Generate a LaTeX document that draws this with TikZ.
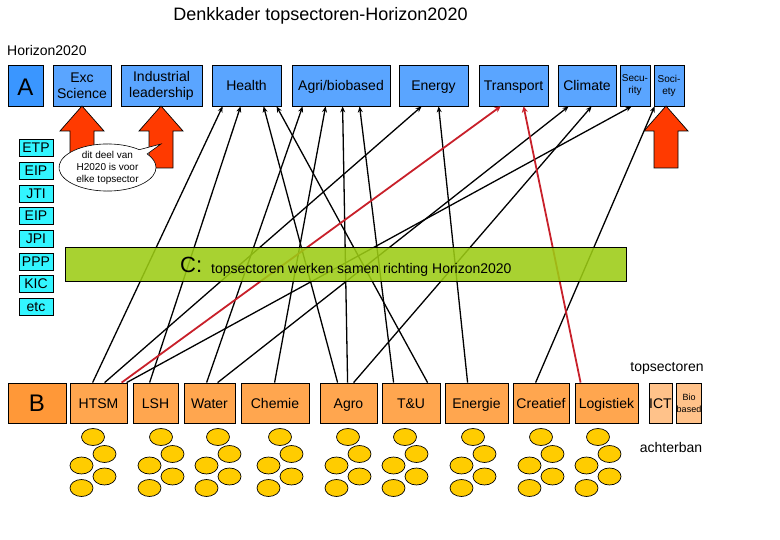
\documentclass[tikz,border=0pt]{standalone}
\usepackage{fontspec}
\setmainfont{Liberation Sans}
\usetikzlibrary{arrows.meta,shapes.callouts}
\definecolor{topblue}{HTML}{5AA5FF}
\definecolor{ablue}{HTML}{3A96FF}
\definecolor{sectororange}{HTML}{FFA64F}
\definecolor{borange}{HTML}{FF9838}
\definecolor{paleorange}{HTML}{FFC28A}
\definecolor{toolcyan}{HTML}{33F5FF}
\definecolor{bandgreen}{HTML}{9CCC14}
\definecolor{arrowred}{HTML}{FF3A00}
\definecolor{ovalyellow}{HTML}{FFCC00}
\definecolor{linkred}{HTML}{C8202A}
\begin{document}
\begin{tikzpicture}[x=1pt,y=-1pt]
	
	% Styles
	\tikzstyle{box}=[rectangle,draw,line width=0.8pt,inner sep=0pt,align=center,font=\fontsize{14}{16}\selectfont]
	\tikzstyle{oneline}=[text height=10,text depth=0]
	\tikzstyle{topbox}=[box,fill=topblue,minimum height=41]
	\tikzstyle{sectorbox}=[box,fill=sectororange,minimum height=40]
	\tikzstyle{toolbox}=[box,text height=11,text depth=0,fill=toolcyan,minimum width=34,minimum height=17]
	\tikzstyle{label}=[inner sep=0pt,font=\fontsize{14}{16}\selectfont]
	\tikzstyle{link}=[-{Stealth[length=6pt,width=5pt]},line width=1.3pt]
	\tikzstyle{redlink}=[link,line width=1.8pt,color=linkred,-{Stealth[length=6pt,width=6pt]}]
	\tikzstyle{bigarrow}=[draw,line width=0.7pt,fill=arrowred]
	\tikzstyle{oval}=[draw,line width=0.7pt,fill=ovalyellow]
	
	\useasboundingbox (0,0) rectangle (780,540);
	
	\node[label,font=\fontsize{18}{20}\selectfont] (title) at (320.5,16) {Denkkader topsectoren-Horizon2020};
	\node[label,anchor=west] (horizon) at (7,50) {Horizon2020};
	
	% --- Horizon row ---
	\node[topbox,fill=ablue,minimum width=35,font=\fontsize{24}{26}\selectfont,text height=20,text depth=0] (A) at (25.5,85.5) {A};
	\node[topbox,minimum width=58] (Exc) at (82,85.5) {Exc\\Science};
	\node[topbox,minimum width=81] (Ind) at (161.5,85.5) {Industrial\\leadership};
	\node[topbox,oneline,minimum width=69] (Health) at (246.5,85.5) {Health};
	\node[topbox,oneline,minimum width=98] (Agri) at (341,85.5) {Agri/biobased};
	\node[topbox,oneline,minimum width=69] (Energy) at (433.5,85.5) {Energy};
	\node[topbox,oneline,minimum width=69] (Transport) at (513.5,85.5) {Transport};
	\node[topbox,oneline,minimum width=58] (Climate) at (587,85.5) {Climate};
	\node[topbox,minimum width=30,font=\fontsize{10}{12}\selectfont] (Security) at (635,85.5) {Secu-\\rity};
	\node[topbox,minimum width=30,font=\fontsize{10}{12}\selectfont] (Society) at (669,85.5) {Soci-\\ety};
	
	% --- Instruments ---
	\node[toolbox] (ETP) at (36,147.5) {ETP};
	\node[toolbox] (EIPa) at (36,170.5) {EIP};
	\node[toolbox] (JTI) at (36,193.5) {JTI};
	\node[toolbox] (EIPb) at (36,215.5) {EIP};
	\node[toolbox] (JPI) at (36,238.5) {JPI};
	\node[toolbox] (PPP) at (36,261.5) {PPP};
	\node[toolbox] (KIC) at (36,283.5) {KIC};
	\node[toolbox] (etc) at (36,306.5) {etc};
	
	% --- Topsector row ---
	\node[sectorbox,fill=borange,minimum width=58,font=\fontsize{24}{26}\selectfont] (B) at (37,403) {B};
	\node[sectorbox,oneline,minimum width=57] (HTSM) at (98.5,403) {HTSM};
	\node[sectorbox,oneline,minimum width=45] (LSH) at (155.5,403) {LSH};
	\node[sectorbox,oneline,minimum width=51] (Water) at (209.5,403) {Water};
	\node[sectorbox,oneline,minimum width=68] (Chemie) at (275,403) {Chemie};
	\node[sectorbox,oneline,minimum width=57] (Agro) at (348.5,403) {Agro};
	\node[sectorbox,oneline,minimum width=58] (TU) at (411,403) {T\&U};
	\node[sectorbox,oneline,minimum width=63] (Energie) at (476.5,403) {Energie};
	\node[sectorbox,oneline,minimum width=56] (Creatief) at (541,403) {Creatief};
	\node[sectorbox,oneline,minimum width=63] (Logistiek) at (606.5,403) {Logistiek};
	\node[sectorbox,oneline,fill=paleorange,minimum width=23] (ICT) at (660.5,403) {ICT};
	\node[sectorbox,fill=paleorange,minimum width=24,font=\fontsize{9}{12}\selectfont] (Bio) at (689,403) {Bio\\based};
	\node[label] (topsectoren) at (667,368) {topsectoren};
	\node[label] (achterban) at (671,447) {achterban};
	
	% --- Links, offsets along the box edges ---
	\foreach \from/\fx/\to/\tx in {HTSM/23/Health/11,LSH/17/Health/29,Agro/18/Health/52,TU/46/Health/65,
		Water/23/Agri/11,Chemie/34/Agri/34,Agro/28/Agri/51,TU/12/Agri/68,
		HTSM/35/Energy/23,Energie/23/Energy/40,Water/34/Climate/11,Agro/34/Climate/34,
		HTSM/57/Security/12,Creatief/23/Society/1}
		\draw[link] ([xshift=\fx]\from.north west) -- ([xshift=\tx]\to.south west);
	\draw[redlink] ([xshift=52]HTSM.north west) -- ([xshift=22]Transport.south west);
	\draw[redlink] ([xshift=6]Logistiek.north west) -- ([xshift=45]Transport.south west);
	
	% Band on top of the links
	\node[box,fill=bandgreen,fill opacity=0.88,text opacity=1,minimum width=561,minimum height=34] (band) at (345.5,264) {};
	\node[label,anchor=base west,font=\fontsize{22}{24}\selectfont] (C) at (180,272.5) {C:};
	\node[label,anchor=base west] (bandtext) at (211,273.5) {topsectoren werken samen richting Horizon2020};
	
	% Big arrows
	\foreach \x in {82,161,666}
		\draw[bigarrow] (\x,106) -- (\x+22,131) -- (\x+12,131) -- (\x+12,168) -- (\x-12,168) -- (\x-12,131) -- (\x-22,131) -- cycle;
	
	\node[ellipse callout,draw,fill=white,line width=0.6pt,inner sep=0pt,minimum width=97,minimum height=45,
		callout absolute pointer={(161,144)},callout pointer arc=14,align=center,font=\fontsize{10}{12}\selectfont] (note) at (107.5,167.5) {dit deel van\\H2020 is voor\\elke topsector};
	
	% Achterban
	\foreach \x in {93,161,218,280,348,405,473,541,598}
		\foreach \dx/\dy in {0/0,11.5/17,-11.5/28.5,11.5/39.5,-11.5/51}
			\draw[oval] (\x+\dx,437+\dy) ellipse (11.5 and 8.5);
\end{tikzpicture}
\end{document}
